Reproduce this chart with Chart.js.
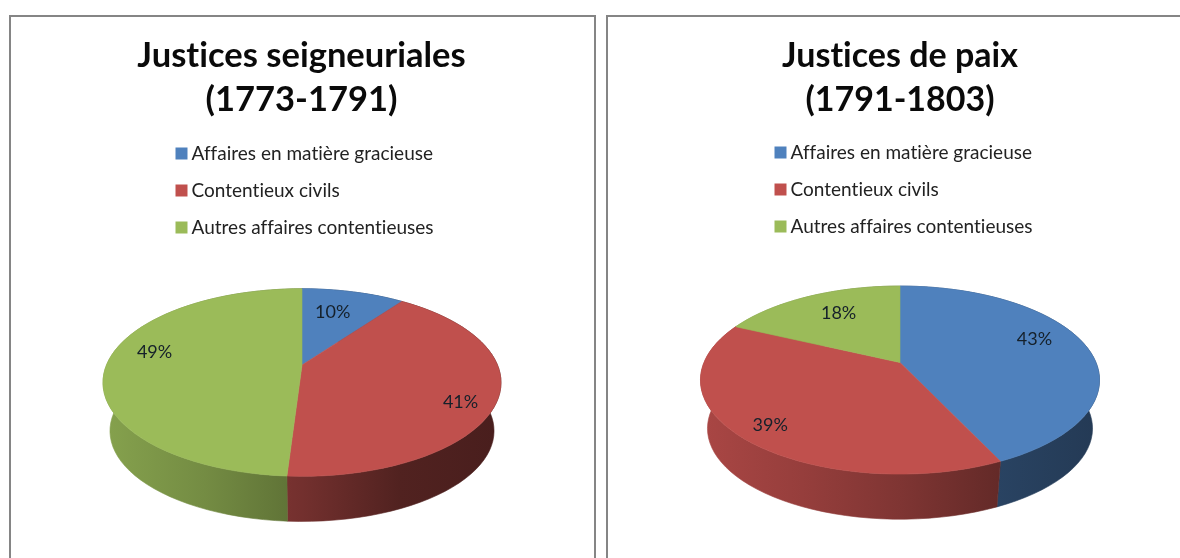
<!DOCTYPE html>
<html>
<head>
<meta charset="utf-8">
<style>
html,body{margin:0;padding:0;background:#fff;overflow:hidden;width:1180px;height:558px}
.panel{position:absolute;box-sizing:border-box;border:2px solid #858585;background:#fff}
.wrap{position:absolute;top:0;height:558px}
canvas{display:block}
</style>
<script src="https://cdn.jsdelivr.net/npm/chart.js@4"></script>
</head>
<body>
<div class="panel" style="left:9px;top:15px;width:587px;height:560px"></div>
<div class="panel" style="left:606px;top:15px;width:600px;height:560px"></div>
<div class="wrap" style="left:0;width:603px"><canvas id="a"></canvas></div>
<div class="wrap" style="left:620px;width:560px"><canvas id="b"></canvas></div>
<script>
const categories = ['Affaires en matière gracieuse', 'Contentieux civils', 'Autres affaires contentieuses'];
const colors = ['#4F81BD', '#C0504D', '#9BBB59'];
const seigneurialesTitle = ['Justices seigneuriales', '(1773-1791)'];
const seigneurialesValues = [10, 41, 49];
const paixTitle = ['Justices de paix', '(1791-1803)'];
const paixValues = [43, 39, 18];

// Presentation only: where the percent labels sit on each slice
const seigneurialesLabelRadius = [0.68, 0.844, 0.789];
const seigneurialesLabelNudge = [-3, 7, 9];
const paixLabelRadius = [0.77, 0.845, 0.697];
const paixLabelNudge = [-8, -1, 2.4];

const TILT = 0.187, SQUASH = 0.463, DEPTH = 49, LOWER = 0.965;
const FONT = 'Lato, Carlito, sans-serif';

function project(arc, angle, radial, lower) {
  const u = radial * Math.cos(angle), v = radial * Math.sin(angle);
  const w = 1 - TILT * v;
  const s = lower ? LOWER : 1;
  return {
    x: arc.x + s * arc.outerRadius * u / w,
    y: arc.y + s * arc.outerRadius * SQUASH * v / w + (lower ? DEPTH : 0)
  };
}
function hexRgb(h) { return [1, 3, 5].map(i => parseInt(h.substr(i, 2), 16)); }
function shade(rgb, f) { return 'rgb(' + rgb.map(c => Math.round(c * f)).join(',') + ')'; }
const STEPS = 120;
function samples(arc) {
  const n = Math.max(2, Math.ceil(STEPS * (arc.endAngle - arc.startAngle) / (2 * Math.PI)));
  const out = [];
  for (let i = 0; i <= n; i++) out.push(arc.startAngle + (arc.endAngle - arc.startAngle) * i / n);
  return out;
}

// Top face of each slice: the library's arc element drawn in the tilted view
const ArcEl = Chart.registry.getElement('arc');
ArcEl.prototype.draw = function (ctx) {
  const fill = this.options.backgroundColor;
  ctx.save();
  ctx.beginPath();
  ctx.moveTo(this.x, this.y);
  samples(this).forEach(a => { const p = project(this, a, 1, false); ctx.lineTo(p.x, p.y); });
  ctx.closePath();
  ctx.fillStyle = fill;
  ctx.strokeStyle = fill;
  ctx.lineWidth = 0.6;
  ctx.fill();
  ctx.stroke();
  ctx.restore();
};

const pie3d = {
  id: 'pie3d',
  beforeDraw(chart) {
    // a hair of letter spacing switches off Lato's "ti" ligature
    if ('letterSpacing' in chart.ctx) chart.ctx.letterSpacing = '0.01px';
  },
  afterLayout(chart) {
    const o = chart.options.plugins.pie3d;
    const R = o.radius;
    const area = chart.chartArea;
    area.left = o.cx - R; area.right = o.cx + R; area.top = o.cy - R; area.bottom = o.cy + R;
    area.width = 2 * R; area.height = 2 * R;
    const lg = chart.legend;
    const w = lg.width;
    lg.left = o.legendX; lg.right = lg.left + w;
    lg.top = o.legendY; lg.bottom = chart.height;
  },
  beforeDatasetsDraw(chart) {
    const o = chart.options.plugins.pie3d;
    const ctx = chart.ctx, arcs = chart.getDatasetMeta(0).data;
    const first = arcs[0], R = first.outerRadius;
    const stopsT = [0, 0.25, 0.5, 0.75, 1];
    arcs.forEach(arc => {
      const rgb = hexRgb(arc.options.backgroundColor);
      const g = ctx.createLinearGradient(arc.x - R, 0, arc.x + R, 0);
      stopsT.forEach((t, i) => g.addColorStop(t, shade(rgb, o.wallShade[i])));
      const an = samples(arc);
      ctx.beginPath();
      an.forEach((a, i) => { const p = project(arc, a, 1, false); i ? ctx.lineTo(p.x, p.y) : ctx.moveTo(p.x, p.y); });
      an.slice().reverse().forEach(a => { const p = project(arc, a, 1, true); ctx.lineTo(p.x, p.y); });
      ctx.closePath();
      ctx.fillStyle = g; ctx.strokeStyle = g; ctx.lineWidth = 0.6;
      ctx.fill(); ctx.stroke();
    });
  },
  afterDatasetsDraw(chart) {
    const o = chart.options.plugins.pie3d;
    const ctx = chart.ctx, values = chart.data.datasets[0].data;
    ctx.save();
    ctx.font = '18px ' + FONT;
    ctx.textAlign = 'center';
    ctx.textBaseline = 'middle';
    ctx.fillStyle = '#15202a';
    chart.getDatasetMeta(0).data.forEach((arc, i) => {
      const mid = (arc.startAngle + arc.endAngle) / 2 + o.labelNudge[i] * Math.PI / 180;
      const p = project(arc, mid, o.labelRadius[i], false);
      ctx.fillText(values[i] + '%', p.x, p.y);
    });
    ctx.restore();
  }
};

function make(id, width, title, values, titleSize, geom) {
  const cv = document.getElementById(id);
  cv.width = width; cv.height = 558;
  cv.style.width = width + 'px'; cv.style.height = '558px';
  return new Chart(cv, {
    type: 'pie',
    data: { labels: categories, datasets: [{ data: values, backgroundColor: colors, borderWidth: 0 }] },
    plugins: [pie3d],
    options: {
      responsive: false, animation: false, events: [],
      plugins: {
        pie3d: geom,
        tooltip: { enabled: false },
        title: {
          display: true, text: title, color: '#0a0a0a',
          font: { family: FONT, size: titleSize, weight: 'bold', lineHeight: 44 / titleSize },
          padding: { top: 34, bottom: 10 }
        },
        legend: {
          display: true, position: 'left', align: 'start',
          labels: {
            usePointStyle: true, pointStyle: 'rect', boxWidth: 1, boxHeight: 12, padding: 18,
            color: '#222', font: { family: FONT, size: 19, lineHeight: 1 }
          }
        }
      }
    }
  });
}
make('a', 603, seigneurialesTitle, seigneurialesValues, 34.5, {
  cx: 302, cy: 365, radius: 195.5, legendX: 163, legendY: 126,
  labelRadius: seigneurialesLabelRadius, labelNudge: seigneurialesLabelNudge,
  wallShade: [0.86, 0.75, 0.6, 0.42, 0.38]
});
make('b', 560, paixTitle, paixValues, 34, {
  cx: 280, cy: 362.5, radius: 196, legendX: 142, legendY: 125,
  labelRadius: paixLabelRadius, labelNudge: paixLabelNudge,
  wallShade: [0.88, 0.78, 0.66, 0.52, 0.45]
});
</script>
</body>
</html>
